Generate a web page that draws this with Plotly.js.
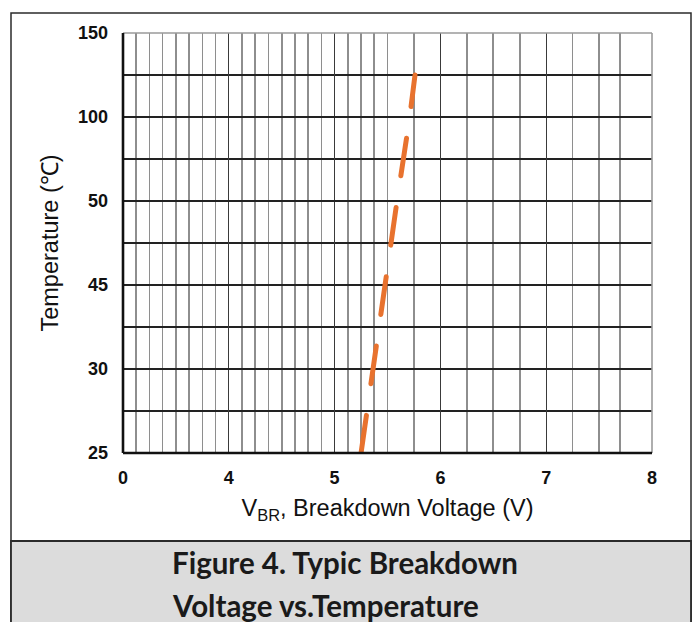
<!DOCTYPE html>
<html>
<head>
<meta charset="utf-8">
<script src="https://cdn.plot.ly/plotly-3.0.1.min.js"></script>
<style>html,body{margin:0;padding:0;background:#fff;}#chart{width:698px;height:622px;}</style>
</head>
<body>
<div id="chart"></div>
<script>
// ---- data ----
const xTickLabels = [0, 4, 5, 6, 7, 8];            // V, equally spaced on the chart
const yTickLabels = [25, 30, 45, 50, 100, 150];     // °C, equally spaced on the chart
const temperature = [25, 30, 45, 50, 100, 125];     // °C
const breakdownV  = [5.25, 5.36, 5.48, 5.59, 5.71, 5.76]; // V
// minor vertical grid lines (in volts)
const xMinorV = [0.5,1,1.5,2,2.5,3,3.5, 4.125,4.25,4.375,4.5,4.625,4.75,4.875,
                 5.125,5.25,5.375,5.5,5.75, 6.25,6.5,6.75, 7.25,7.5,7.7];

// piecewise scale: the chart's tick labels are equally spaced
function toIdx(v, ticks){
  for (let i = 0; i < ticks.length - 1; i++){
    if (v <= ticks[i+1]) return i + (v - ticks[i]) / (ticks[i+1] - ticks[i]);
  }
  return ticks.length - 1;
}
// y minor gridlines sit midway between labels
const yMinorIdx = [0.5,1.5,2.5,3.5,4.5];

const W = 698, H = 622, ML = 123, MR = 46, MT = 33, MB = 169;
const PW = W - ML - MR, PH = H - MT - MB;
const px = x => (x - ML) / PW;
const py = y => (H - MB - y) / PH;

const tickFont = {family: 'Liberation Sans, Arial, sans-serif', size: 18, color: '#111', weight: 'bold'};

const trace = {
  type: 'scatter', mode: 'lines',
  x: breakdownV.map(v => toIdx(v, xTickLabels)),
  y: temperature.map(t => toIdx(t, yTickLabels)),
  line: {color: '#E8722E', width: 5, dash: '38px,32px'},
  hoverinfo: 'skip', showlegend: false
};

const layout = {
  width: W, height: H,
  margin: {l: ML, r: MR, t: MT, b: MB, pad: 0},
  paper_bgcolor: 'rgba(0,0,0,0)', plot_bgcolor: 'rgba(0,0,0,0)',
  showlegend: false,
  xaxis: {
    range: [0, 5], fixedrange: true, zeroline: false, showline: false,
    tickmode: 'array', tickvals: xTickLabels.map((_, i) => i), ticktext: xTickLabels.map(String),
    ticks: '', tickfont: tickFont, ticklabelstandoff: 12,
    showgrid: true, gridcolor: '#3a3a3a', gridwidth: 1.2,
    minor: {tickmode: 'array', tickvals: xMinorV.map(v => toIdx(v, xTickLabels)), showgrid: true, gridcolor: '#8e8e8e', gridwidth: 1.6, ticks: ''},
    title: {text: 'V<sub>BR</sub>, Breakdown Voltage (V)', standoff: 12,
            font: {family: 'Liberation Sans, Arial, sans-serif', size: 23.5, color: '#111'}}
  },
  yaxis: {
    range: [0, 5], fixedrange: true, zeroline: false, showline: false,
    tickmode: 'array', tickvals: yTickLabels.map((_, i) => i), ticktext: yTickLabels.map(String),
    ticks: '', tickfont: tickFont, ticklabelstandoff: 14,
    showgrid: true, gridcolor: '#222', gridwidth: 1.2,
    minor: {tickmode: 'array', tickvals: yMinorIdx, showgrid: true, gridcolor: '#222', gridwidth: 1.2, ticks: ''},
    title: {text: 'Temperature (℃)', standoff: 12,
            font: {family: 'Liberation Sans, Arial, sans-serif', size: 23.5, color: '#111'}}
  },
  shapes: [
    // outer frame
    {type: 'rect', xref: 'paper', yref: 'paper', x0: px(11), x1: px(691), y0: py(13), y1: py(623),
     line: {color: '#2b2b2b', width: 1.5}, fillcolor: 'rgba(0,0,0,0)', layer: 'below'},
    // grey caption band
    {type: 'rect', xref: 'paper', yref: 'paper', x0: px(11), x1: px(691), y0: py(541), y1: py(623),
     line: {color: '#2b2b2b', width: 1.8}, fillcolor: '#DCDCDC', layer: 'below'},
    // plot frame: top & right grey, left & bottom black heavy
    {type: 'line', xref: 'paper', yref: 'paper', x0: 0, x1: 1, y0: 1, y1: 1, line: {color: '#9a9a9a', width: 1.6}},
    {type: 'line', xref: 'paper', yref: 'paper', x0: 1, x1: 1, y0: 0, y1: 1, line: {color: '#9a9a9a', width: 1.6}},
    {type: 'line', xref: 'paper', yref: 'paper', x0: 0, x1: 1, y0: 0, y1: 0, line: {color: '#111', width: 2.6}},
    {type: 'line', xref: 'paper', yref: 'paper', x0: 0, x1: 0, y0: 0, y1: 1, line: {color: '#111', width: 2.6}}
  ],
  annotations: [
    {xref: 'paper', yref: 'paper', x: px(170), y: py(562), xanchor: 'left', yanchor: 'middle', showarrow: false,
     text: '<b>Figure 4. Typic Breakdown</b>', font: {family: 'Lato, Open Sans, sans-serif', size: 29.5, color: '#1a1a1a'}},
    {xref: 'paper', yref: 'paper', x: px(170), y: py(605), xanchor: 'left', yanchor: 'middle', showarrow: false,
     text: '<b>Voltage vs.Temperature</b>', font: {family: 'Lato, Open Sans, sans-serif', size: 29.5, color: '#1a1a1a'}}
  ]
};

Plotly.newPlot('chart', [trace], layout, {staticPlot: true, displayModeBar: false}).then(() => {
  document.querySelectorAll('.scatterlayer path.js-line').forEach(p => {
    p.style.strokeLinecap = 'round';
  });
});
</script>
</body>
</html>
